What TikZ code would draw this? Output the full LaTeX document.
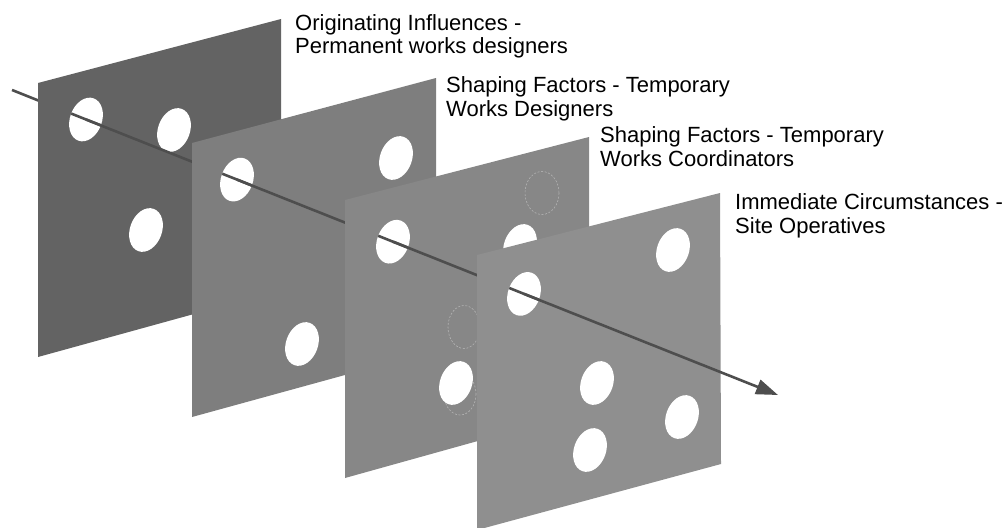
\documentclass[tikz,border=0pt]{standalone}
\usepackage{fontspec}
\setmainfont{Liberation Sans}
\usetikzlibrary{arrows.meta}
\definecolor{sliceA}{HTML}{636363}
\definecolor{sliceB}{HTML}{7E7E7E}
\definecolor{sliceC}{HTML}{878787}
\definecolor{sliceD}{HTML}{8F8F8F}
\definecolor{rayc}{HTML}{4E4E4E}
\definecolor{ghostc}{HTML}{B4B4B4}
\newcommand\cheesehole[1]{\fill[white, shift={#1}, rotate=-20] (0,0) ellipse (16 and 22.5);}
\newcommand\rayhole[1]{%
  \fill[white, shift={#1}, rotate=-20] (0,0) ellipse (16 and 22.5);
  \begin{scope}
    \clip[shift={#1}, rotate=-20] (0,0) ellipse (16 and 22.5);
    \draw[ray] (start) -- (tip);
  \end{scope}}
\begin{document}
\begin{tikzpicture}[x=1pt,y=-1pt,
  ray/.style={draw=rayc, line width=2.6pt},
  ghost/.style={draw=ghostc, line width=0.6pt, dash pattern=on 2pt off 1.6pt},
  lbl/.style={anchor=base west, inner sep=0pt, font=\fontsize{22}{24}\selectfont, align=left, text=black}]
\useasboundingbox (0,0) rectangle (1008,527);

\coordinate (start) at (12,90);
\coordinate (tip) at (778,395);
\coordinate (h1) at (86,119.5);
\coordinate (h2) at (237,179.6);
\coordinate (h3) at (393,241.7);
\coordinate (h4) at (524,293.9);

% ray behind slice 1
\draw[ray] (start) -- (h1);

% slice 1
\fill[sliceA] (38,83) -- (281,19) -- (281,290) -- (38,357) -- cycle;
\rayhole{(h1)}
\cheesehole{(174,130)}
\cheesehole{(146,230)}
\draw[ray] (h1) -- (h2);

% slice 2
\fill[sliceB] (192,143) -- (436,78) -- (436,350) -- (192,417) -- cycle;
\rayhole{(h2)}
\cheesehole{(396,158)}
\cheesehole{(302,344)}
\draw[ray] (h2) -- (h3);

% slice 3
\fill[sliceC] (345,200) -- (589,137) -- (589,410) -- (345,478) -- cycle;
\draw[ghost] (542,193) ellipse (17 and 21.5);
\draw[ghost] (464,327) ellipse (16 and 21.5);
\draw[ghost] (460,394) ellipse (16 and 21);
\rayhole{(h3)}
\cheesehole{(520,246)}
\cheesehole{(456,383)}
\draw[ray] (h3) -- (h4);

% slice 4
\fill[sliceD] (477,255) -- (720,193) -- (721,464) -- (477,530) -- cycle;
\rayhole{(h4)}
\cheesehole{(673,250)}
\cheesehole{(597,383)}
\cheesehole{(682,417)}
\cheesehole{(590,450)}
\draw[ray, -{Triangle[length=22pt, width=15pt]}] (h4) -- (tip);

% labels (anchor is the baseline of the last line)
\node[lbl] (l1) at (295,54) {Originating Influences -\\Permanent works designers};
\node[lbl] (l2) at (446,116) {Shaping Factors - Temporary\\Works Designers};
\node[lbl] (l3) at (600,166) {Shaping Factors - Temporary\\Works Coordinators};
\node[lbl] (l4) at (735,233) {Immediate Circumstances -\\Site Operatives};
\end{tikzpicture}
\end{document}
